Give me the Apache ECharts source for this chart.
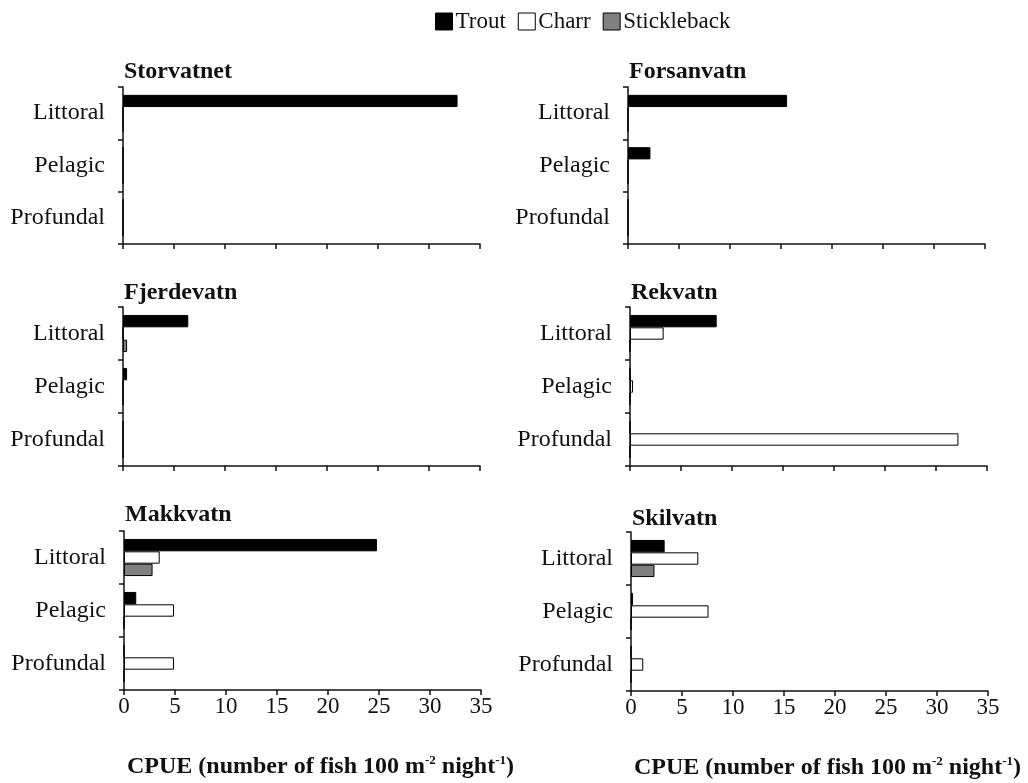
<!DOCTYPE html>
<html>
<head>
<meta charset="utf-8">
<title>CPUE by habitat</title>
<script src="https://cdn.jsdelivr.net/npm/echarts@6/dist/echarts.min.js"></script>
<style>
  html, body { margin: 0; padding: 0; background: #fff; }
  #chart { width: 1028px; height: 783px; }
</style>
</head>
<body>
<div id="chart"></div>
<script>
// Habitats (categories) and species
const habitats = ['Littoral', 'Pelagic', 'Profundal'];
const species = ['Trout', 'Charr', 'Stickleback'];
const lakes = ['Storvatnet', 'Forsanvatn', 'Fjerdevatn', 'Rekvatn', 'Makkvatn', 'Skilvatn'];

// CPUE per habitat (Littoral, Pelagic, Profundal)
const storvatnetTrout = [32.8, 0, 0];
const storvatnetCharr = [0, 0, 0];
const storvatnetStickleback = [0, 0, 0];

const forsanvatnTrout = [15.6, 2.2, 0];
const forsanvatnCharr = [0, 0, 0];
const forsanvatnStickleback = [0, 0, 0];

const fjerdevatnTrout = [6.4, 0.4, 0];
const fjerdevatnCharr = [0, 0, 0];
const fjerdevatnStickleback = [0.4, 0, 0];

const rekvatnTrout = [8.5, 0, 0];
const rekvatnCharr = [3.3, 0.3, 32.2];
const rekvatnStickleback = [0, 0, 0];

const makkvatnTrout = [24.8, 1.2, 0];
const makkvatnCharr = [3.5, 4.9, 4.9];
const makkvatnStickleback = [2.8, 0, 0];

const skilvatnTrout = [3.3, 0.2, 0];
const skilvatnCharr = [6.6, 7.6, 1.2];
const skilvatnStickleback = [2.3, 0, 0];

const xTicks = { min: 0, max: 35, interval: 5 };

const lakeData = [
  [storvatnetTrout, storvatnetCharr, storvatnetStickleback],
  [forsanvatnTrout, forsanvatnCharr, forsanvatnStickleback],
  [fjerdevatnTrout, fjerdevatnCharr, fjerdevatnStickleback],
  [rekvatnTrout, rekvatnCharr, rekvatnStickleback],
  [makkvatnTrout, makkvatnCharr, makkvatnStickleback],
  [skilvatnTrout, skilvatnCharr, skilvatnStickleback]
];

const speciesColors = ['#000000', '#ffffff', '#808080'];
const serif = '"Liberation Serif", "DejaVu Serif", serif';
const ink = '#111';

// panel boxes: [left, top, width, height]
const panels = [
  [123, 87, 357, 157],
  [628, 87, 357, 157],
  [123, 307, 357, 159],
  [630, 307, 357, 159],
  [124, 531, 357, 159],
  [631, 532, 357, 159]
];
const titleTops = [60, 60, 281, 281, 503, 507];

const grids = [], xAxes = [], yAxes = [], series = [], titles = [];

panels.forEach((p, i) => {
  const bottomRow = i >= 4;
  grids.push({ left: p[0], top: p[1], width: p[2], height: p[3] });
  titles.push({
    text: lakes[i],
    left: p[0] + 1,
    top: titleTops[i],
    padding: 0,
    textStyle: { fontFamily: serif, fontWeight: 'bold', fontSize: 24, color: ink }
  });
  xAxes.push({
    type: 'value',
    gridIndex: i,
    min: xTicks.min, max: xTicks.max, interval: xTicks.interval,
    splitLine: { show: false },
    axisLine: { show: true, lineStyle: { color: '#111', width: 1.5 } },
    axisTick: { show: true, length: 5, lineStyle: { color: '#111', width: 1.5 } },
    axisLabel: {
      show: bottomRow, margin: 5,
      fontFamily: serif, fontSize: 23, color: ink
    },
    name: bottomRow ? '{t|CPUE (number of fish 100 m}{s|-2}{t| night}{s|-1}{t|)}' : '',
    nameLocation: 'middle',
    nameGap: 64,
    nameTextStyle: {
      padding: [0, 0, 0, 36],
      rich: {
        t: { fontFamily: serif, fontWeight: 'bold', fontSize: 24, color: ink, lineHeight: 26 },
        s: { fontFamily: serif, fontWeight: 'bold', fontSize: 13, color: ink, verticalAlign: 'top', lineHeight: 26 }
      }
    }
  });
  yAxes.push({
    type: 'category',
    gridIndex: i,
    data: habitats,
    inverse: true,
    axisLine: { show: true, lineStyle: { color: '#111', width: 1.5 } },
    axisTick: { show: true, length: 5, lineStyle: { color: '#111', width: 1.5 } },
    axisLabel: { margin: 18, fontFamily: serif, fontSize: 24, color: ink }
  });
  species.forEach((sp, k) => {
    series.push({
      type: 'bar',
      name: sp,
      xAxisIndex: i,
      yAxisIndex: i,
      data: lakeData[i][k],
      barGap: '0%',
      barCategoryGap: '30%',
      itemStyle: { color: speciesColors[k], borderColor: '#000', borderWidth: 1 },
      emphasis: { disabled: true },
      animation: false
    });
  });
});

const chart = echarts.init(document.getElementById('chart'), null, { renderer: 'canvas' });
chart.setOption({
  backgroundColor: '#fff',
  animation: false,
  title: titles,
  legend: {
    data: species,
    left: 435,
    top: 10,
    icon: 'rect',
    itemWidth: 17,
    itemHeight: 17,
    itemGap: 12,
    padding: 0,
    textStyle: { fontFamily: serif, fontSize: 23, color: ink, padding: [0, 0, 0, -2] },
    itemStyle: { borderColor: '#000', borderWidth: 1 }
  },
  grid: grids,
  xAxis: xAxes,
  yAxis: yAxes,
  series: series
});
</script>
</body>
</html>
